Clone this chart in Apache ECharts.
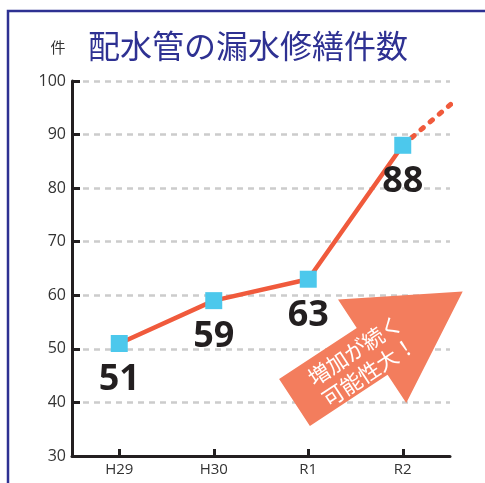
<!DOCTYPE html>
<html>
<head>
<meta charset="utf-8">
<script src="https://cdn.jsdelivr.net/npm/echarts@6/dist/echarts.min.js"></script>
<style>
html,body{margin:0;padding:0;background:#fff;}
#c{width:485px;height:483px;}
</style>
</head>
<body>
<div id="c"></div>
<script>
const categories = ['H29', 'H30', 'R1', 'R2'];
const repairCounts = [51, 59, 63, 88];
const projection = [[3, 88], [3.63, 97.5]];
const yTicks = { min: 30, max: 100, interval: 10 };
const titleText = '配水管の漏水修繕件数';
const unitText = '件';
const arrowText = '増加が続く\n可能性大！';

const chart = echarts.init(document.getElementById('c'), null, { renderer: 'canvas' });

// arrow geometry (decoration)
const tail = [294.5, 402.5];
const ang = 33.4 * Math.PI / 180;
const u = [Math.cos(ang), -Math.sin(ang)];
const v = [Math.sin(ang), Math.cos(ang)];
function P(a, b) { return [tail[0] + a * u[0] + b * v[0], tail[1] + a * u[1] + b * v[1]]; }
const arrowPts = [P(0, -28), P(93, -28), P(93, -62), P(201.5, 0), P(93, 62), P(93, 28), P(0, 28)];

const option = {
  animation: false,
  title: {
    text: titleText,
    left: 83,
    top: 25,
    textStyle: { fontFamily: 'Noto Sans CJK JP', fontSize: 32, fontWeight: 'normal', color: '#2e3192' }
  },
  grid: { left: 72, right: 35, top: 81, bottom: 27 },
  xAxis: [{
    type: 'category',
    data: categories,
    boundaryGap: true,
    axisLine: { onZero: false, lineStyle: { color: '#231f20', width: 3 } },
    axisTick: { show: true, inside: true, alignWithLabel: true, length: 7, lineStyle: { color: '#231f20', width: 3 } },
    axisLabel: { color: '#333', fontSize: 15, margin: 6, fontFamily: 'Open Sans' },
    splitLine: { show: false }
  }, {
    type: 'value',
    min: -0.5,
    max: 3.5,
    show: false
  }],
  yAxis: {
    type: 'value',
    min: yTicks.min,
    max: yTicks.max,
    interval: yTicks.interval,
    axisLine: { show: true, onZero: false, lineStyle: { color: '#231f20', width: 3 } },
    axisTick: { show: true, inside: true, length: 8, lineStyle: { color: '#231f20', width: 3 } },
    axisLabel: { color: '#333', fontSize: 16, margin: 6, fontFamily: 'Open Sans' },
    splitLine: { show: true, lineStyle: { color: '#cccccc', width: 2.5, type: [6, 5] } }
  },
  series: [{
    type: 'line',
    data: repairCounts,
    xAxisIndex: 0,
    symbol: 'rect',
    symbolSize: 17,
    itemStyle: { color: '#4cc8ec' },
    lineStyle: { color: '#f05a3c', width: 4.5 },
    z: 3,
    label: {
      show: true,
      position: 'bottom',
      distance: 10,
      fontSize: 36,
      fontWeight: 'bold',
      fontFamily: 'Open Sans',
      color: '#231f20'
    }
  }, {
    type: 'line',
    xAxisIndex: 1,
    data: projection,
    symbol: 'none',
    clip: false,
    z: 2,
    lineStyle: { color: '#f05a3c', width: 5, type: [3, 9], cap: 'round' }
  }],
  graphic: [
    {
      type: 'rect',
      shape: { x: 8, y: 11, width: 520, height: 520 },
      style: { fill: 'none', stroke: '#2e3192', lineWidth: 2.5 },
      silent: true, z: 1
    },
    {
      type: 'text',
      x: 58, y: 47,
      style: { text: unitText, fontFamily: 'Noto Sans CJK JP', fontSize: 15, fill: '#333', textAlign: 'center', textVerticalAlign: 'middle' },
      z: 5
    },
    {
      type: 'polygon',
      shape: { points: arrowPts },
      style: { fill: '#f37d5d' },
      z: 10
    },
    {
      type: 'text',
      x: 362, y: 361,
      rotation: ang,
      style: {
        text: arrowText,
        fontFamily: 'Noto Sans CJK JP',
        fontSize: 21.5,
        lineHeight: 25.5,
        fill: '#ffffff',
        textAlign: 'center',
        textVerticalAlign: 'middle'
      },
      z: 11
    }
  ]
};
chart.setOption(option);
</script>
</body>
</html>
